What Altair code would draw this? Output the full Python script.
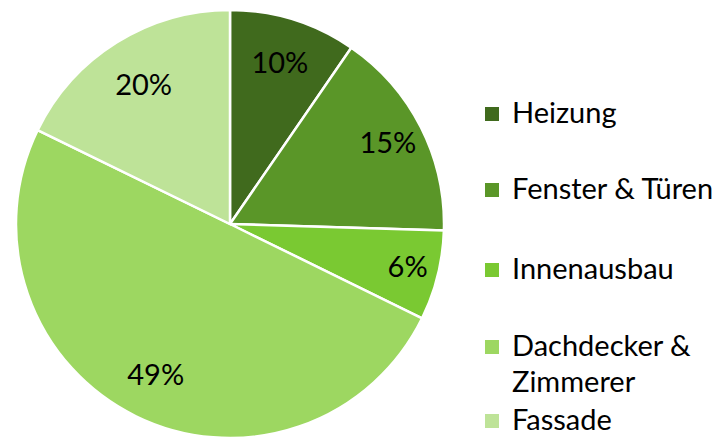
import altair as alt
import pandas as pd

categories = ["Heizung", "Fenster & Türen", "Innenausbau", "Dachdecker & Zimmerer", "Fassade"]
shares = [9.6, 15.9, 6.8, 50.0, 17.8]
labels = ["10%", "15%", "6%", "49%", "20%"]
legend_text = ["Heizung", "Fenster & Türen", "Innenausbau", "Dachdecker &\nZimmerer", "Fassade"]
colors = ["#406A1D", "#5A9628", "#7AC932", "#9DD761", "#BEE398"]

# layout: pixel rows of the hand-drawn legend, label distance from pie centre
legend_rows = [106, 182, 262, 339, 413]
label_radius = [168, 177, 183, 169, 163]

df = pd.DataFrame({
    "cat": categories,
    "share": shares,
    "label": labels,
    "idx": list(range(len(categories))),
    "legend": legend_text,
    "ly": legend_rows,
    "lr": label_radius,
})

total = float(sum(shares))
color_scale = alt.Scale(domain=categories, range=colors)

arcs = alt.Chart(df).mark_arc(radius=214, stroke="white", strokeWidth=2.5).encode(
    theta=alt.Theta("share:Q", stack=True),
    order=alt.Order("idx:Q"),
    x=alt.value(222),
    y=alt.value(216),
    color=alt.Color("cat:N", scale=color_scale, sort=categories, legend=None),
)

text = (
    alt.Chart(df)
    .transform_window(cum="sum(share)", sort=[alt.SortField("idx")], frame=[None, 0])
    .transform_calculate(mid="datum.cum - datum.share / 2")
    .mark_text(font="Lato", fontSize=29, color="black")
    .encode(
        theta=alt.Theta("mid:Q", stack=False, scale=alt.Scale(domain=[0, total])),
        radius=alt.Radius("lr:Q", scale=None),
        x=alt.value(222),
        y=alt.value(216),
        text="label:N",
    )
)

leg = alt.Chart(df).encode(y=alt.Y("ly:Q", scale=None, axis=None))
leg_sq = leg.mark_square(size=196, opacity=1).encode(
    x=alt.value(484),
    color=alt.Color("cat:N", scale=color_scale, sort=categories, legend=None),
)
leg_tx = leg.mark_text(
    align="left", baseline="middle", font="Lato", fontSize=29, color="black",
    lineBreak="\n", lineHeight=36,
).encode(x=alt.value(504), text="legend:N")

chart = (
    alt.layer(arcs, text, leg_sq, leg_tx)
    .resolve_scale(theta="independent")
    .properties(width=704, height=431, padding=0, autosize=alt.AutoSizeParams(type="none"))
    .configure_view(stroke=None)
)

chart.save("out.html", embed_options={"renderer": "svg", "actions": False})
